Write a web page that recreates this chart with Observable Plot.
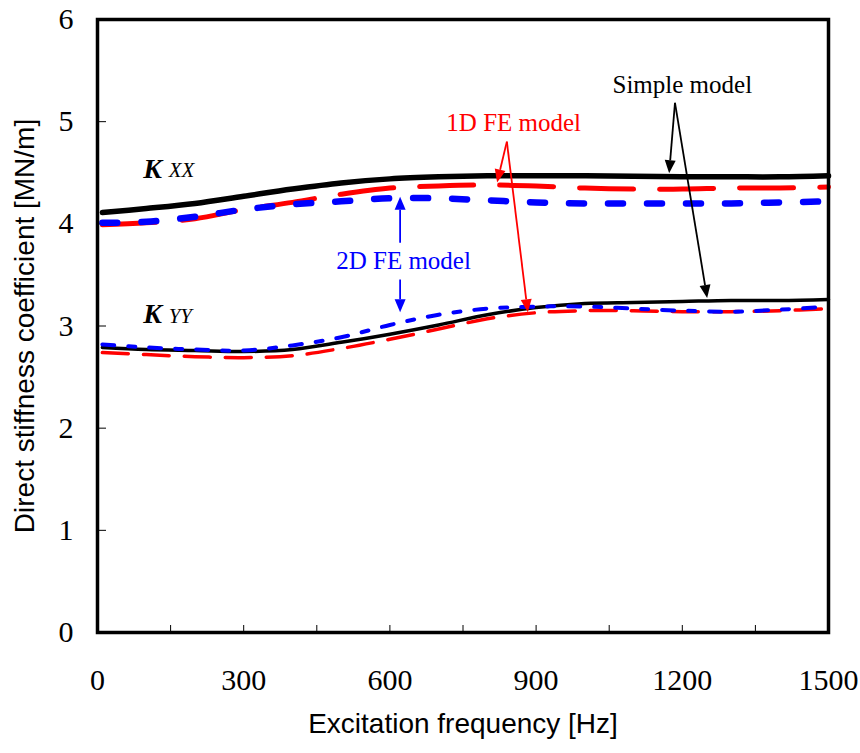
<!DOCTYPE html>
<html>
<head>
<meta charset="utf-8">
<script src="https://cdn.jsdelivr.net/npm/d3@7"></script>
<script src="https://cdn.jsdelivr.net/npm/@observablehq/plot@0.6"></script>
<style>
  html, body { margin: 0; padding: 0; background: #fff; }
  #chart svg { display: block; }
</style>
</head>
<body>
<div id="chart"></div>
<script>
// ---- Data ----
const freq = [10, 100, 200, 300, 400, 500, 600, 700, 800, 900, 1000, 1100, 1200, 1300, 1400, 1500];

const simpleKxx = [4.11, 4.15, 4.20, 4.27, 4.34, 4.40, 4.44, 4.46, 4.47, 4.47, 4.47, 4.465, 4.46, 4.46, 4.46, 4.47];
const fe1Kxx    = [3.99, 4.01, 4.05, 4.14, 4.21, 4.29, 4.35, 4.37, 4.38, 4.37, 4.35, 4.34, 4.34, 4.35, 4.35, 4.36];
const fe2Kxx    = [4.01, 4.02, 4.07, 4.14, 4.19, 4.22, 4.25, 4.25, 4.23, 4.21, 4.20, 4.20, 4.20, 4.20, 4.21, 4.22];
const simpleKyy = [2.79, 2.77, 2.76, 2.75, 2.77, 2.84, 2.92, 3.01, 3.11, 3.18, 3.22, 3.23, 3.24, 3.25, 3.25, 3.26];
const fe1Kyy    = [2.74, 2.72, 2.70, 2.69, 2.71, 2.78, 2.87, 2.97, 3.07, 3.13, 3.15, 3.15, 3.14, 3.14, 3.15, 3.17];
const fe2Kyy    = [2.82, 2.79, 2.77, 2.76, 2.81, 2.89, 3.01, 3.11, 3.17, 3.19, 3.19, 3.17, 3.15, 3.14, 3.16, 3.19];

const xTickLabels = [0, 300, 600, 900, 1200, 1500];
const xMinorTicks = [150, 300, 450, 600, 750, 900, 1050, 1200, 1350];
const yTickLabels = [0, 1, 2, 3, 4, 5, 6];
const yMinorTicks = [1, 2, 3, 4, 5];

const xTitle = "Excitation frequency [Hz]";
const yTitle = "Direct stiffness coefficient [MN/m]";

// annotation labels
const noteLabels = [
  {text: "Simple model", x: 1200, y: 5.36, color: "#000000"},
  {text: "1D FE model",  x: 854,  y: 4.99, color: "#ff0000"},
  {text: "2D FE model",  x: 628,  y: 3.64, color: "#0000ff"}
];
// K labels
const kMain = [{text: "K", x: 94, y: 4.54}, {text: "K", x: 94, y: 3.12}];
const kSub  = [{text: "XX", x: 146, y: 4.52}, {text: "YY", x: 146, y: 3.10}];

// annotation arrows
const noteArrows = [
  {x1: 1186, y1: 5.18, x2: 1174, y2: 4.49, color: "#000000"},
  {x1: 1186, y1: 5.18, x2: 1252, y2: 3.27, color: "#000000"},
  {x1: 841,  y1: 4.80, x2: 821,  y2: 4.40, color: "#ff0000"},
  {x1: 841,  y1: 4.80, x2: 884,  y2: 3.13, color: "#ff0000"},
  {x1: 622,  y1: 3.81, x2: 622,  y2: 4.26, color: "#0000ff"},
  {x1: 622,  y1: 3.45, x2: 622,  y2: 3.13, color: "#0000ff"}
];

// ---- Build table ----
const seriesDefs = [
  {key: "simpleKxx", vals: simpleKxx},
  {key: "fe1Kxx", vals: fe1Kxx},
  {key: "fe2Kxx", vals: fe2Kxx},
  {key: "simpleKyy", vals: simpleKyy},
  {key: "fe1Kyy", vals: fe1Kyy},
  {key: "fe2Kyy", vals: fe2Kyy}
];
const rows = seriesDefs.flatMap(s => freq.map((f, i) => ({series: s.key, f, k: s.vals[i]})));
const sel = key => rows.filter(r => r.series === key);

const serif = "Liberation Serif, Times New Roman, serif";
const sans = "Liberation Sans, Arial, sans-serif";

// arrows with filled triangular heads, positioned through the plot scales
function arrowMark(index, scales) {
  const g = d3.create("svg:g");
  for (const a of noteArrows) {
    const X1 = scales.x(a.x1), Y1 = scales.y(a.y1);
    const X2 = scales.x(a.x2), Y2 = scales.y(a.y2);
    const dx = X2 - X1, dy = Y2 - Y1;
    const len = Math.hypot(dx, dy);
    const ux = dx / len, uy = dy / len;
    const hl = 13, hw = 5.5;
    const bx = X2 - ux * hl, by = Y2 - uy * hl;
    g.append("line")
      .attr("x1", X1).attr("y1", Y1).attr("x2", bx).attr("y2", by)
      .attr("stroke", a.color).attr("stroke-width", 1.8);
    g.append("path")
      .attr("d", `M${X2},${Y2}L${bx - uy * hw},${by + ux * hw}L${bx + uy * hw},${by - ux * hw}Z`)
      .attr("fill", a.color);
  }
  return g.node();
}

const curve = "catmull-rom";

const chart = Plot.plot({
  width: 860,
  height: 753,
  marginLeft: 97,
  marginRight: 32,
  marginTop: 19,
  marginBottom: 121,
  style: {fontFamily: serif, background: "#fff", color: "#000"},
  x: {domain: [0, 1500]},
  y: {domain: [0, 6]},
  marks: [
    // tick marks (inward)
    Plot.axisX({ticks: xMinorTicks, tickSize: -7, tickFormat: () => "", label: null, strokeWidth: 1}),
    Plot.axisY({ticks: yMinorTicks, tickSize: -9, tickFormat: () => "", label: null, strokeWidth: 1}),
    // tick labels
    Plot.axisX({ticks: xTickLabels, tickSize: 0, tickPadding: 36, fontSize: 30, fontFamily: serif, label: null, tickFormat: d => String(d)}),
    Plot.axisY({ticks: yTickLabels, tickSize: 0, tickPadding: 24, fontSize: 30, fontFamily: serif, label: null, tickFormat: d => String(d)}),
    // axis titles
    Plot.text([xTitle], {frameAnchor: "bottom", textAnchor: "middle", dy: 100, fontSize: 28, fontFamily: sans, text: d => d, fill: "#000"}),
    Plot.text([yTitle], {frameAnchor: "left", textAnchor: "middle", dx: -72, rotate: -90, fontSize: 28, fontFamily: sans, text: d => d, fill: "#000"}),
    // curves
    Plot.line(sel("simpleKxx"), {x: "f", y: "k", stroke: "#000", strokeWidth: 5.5, curve}),
    Plot.line(sel("simpleKyy"), {x: "f", y: "k", stroke: "#000", strokeWidth: 3.5, curve}),
    Plot.line(sel("fe1Kxx"), {x: "f", y: "k", stroke: "#ff0000", strokeWidth: 5, strokeDasharray: "54,26", curve}),
    Plot.line(sel("fe1Kyy"), {x: "f", y: "k", stroke: "#ff0000", strokeWidth: 3.5, strokeDasharray: "26,15", curve}),
    Plot.line(sel("fe2Kxx"), {x: "f", y: "k", stroke: "#0000ff", strokeWidth: 6.5, strokeDasharray: "15,24", curve}),
    Plot.line(sel("fe2Kyy"), {x: "f", y: "k", stroke: "#0000ff", strokeWidth: 4, strokeDasharray: "12,14,7,14", curve}),
    // frame
    Plot.frame({stroke: "#000", strokeWidth: 3.5}),
    // annotations
    Plot.text(noteLabels, {x: "x", y: "y", text: "text", fill: "color", fontSize: 25, fontFamily: serif}),
    Plot.text(kMain, {x: "x", y: "y", text: "text", textAnchor: "start", fontSize: 28, fontWeight: "bold", fontStyle: "italic", fontFamily: serif, fill: "#000"}),
    Plot.text(kSub, {x: "x", y: "y", text: "text", textAnchor: "start", fontSize: 21, fontStyle: "italic", fontFamily: serif, fill: "#000"}),
    arrowMark
  ]
});
document.getElementById("chart").appendChild(chart);
</script>
</body>
</html>
